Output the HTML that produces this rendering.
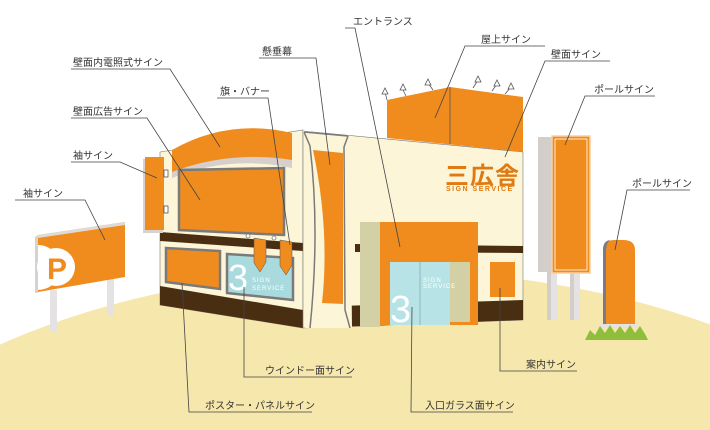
<!DOCTYPE html>
<html><head><meta charset="utf-8"><style>
html,body{margin:0;padding:0;background:#fff;width:710px;height:430px;overflow:hidden}
svg{display:block}
text{font-family:"Liberation Sans","Noto Sans CJK JP",sans-serif;font-size:10px;fill:#333}
</style></head><body>
<svg width="710" height="430" viewBox="0 0 710 430">
<!-- ground -->
<ellipse cx="380" cy="600" rx="600" ry="330" fill="#f6e7ac"/>
<rect x="0" y="420" width="710" height="10" fill="#f6e7ac"/>

<!-- P sign -->
<rect x="50" y="290" width="7" height="42" fill="#e4e2e2"/>
<rect x="107" y="276" width="7" height="40" fill="#e4e2e2"/>
<polygon points="35,237 38,235 38,293 35,293" fill="#d8d2ce"/>
<polygon points="38,235 125,222 125,277 38,292" fill="#f08c1e"/>
<polygon points="38,235 125,222 125,225 38,238" fill="#e0dad6"/>
<path d="M38,245 A20,20 0 0 1 38,290 Z" fill="#fff"/>
<circle cx="56" cy="267" r="19" fill="#fff"/>
<text x="47" y="279" style="font-size:30px;font-weight:bold;fill:#f08c1e">P</text>

<!-- left wing -->
<polygon points="160,152 303,130 303,328 160,305" fill="#fcf5d8" stroke="#777" stroke-width="0.6"/>
<polygon points="160,232 303,243 303,251 160,241" fill="#4a2e12"/>
<polygon points="160,286 303,310 303,328 160,305" fill="#4a2e12"/>
<!-- arch sign -->
<path d="M172,170 Q230,145 292,160 L292,168 Q230,155 172,178 Z" fill="#d6cfcb"/>
<path d="M172,150 Q228,118 292,133 L292,160 Q230,150 172,172 Z" fill="#f08c1e"/>
<!-- wall ad sign -->
<polygon points="179,170 284,168 284,235 179,230" fill="#f08c1e" stroke="#7a7a7a" stroke-width="2.5"/>
<!-- poster -->
<polygon points="166,248 220,251 220,289 166,282" fill="#f08c1e" stroke="#7a7a7a" stroke-width="2.5"/>
<!-- window -->
<polygon points="227,254 293,258 293,300 227,293" fill="#a9dbde" stroke="#7a7a7a" stroke-width="2.5"/>
<text x="228" y="290" style="font-size:36px;fill:#fff">3</text>
<text x="252" y="282" style="font-size:6px;fill:#fff;letter-spacing:1px">SIGN</text>
<text x="252" y="290" style="font-size:6px;fill:#fff;letter-spacing:1px">SERVICE</text>
<!-- flags -->
<circle cx="248" cy="236" r="2" fill="#fff" stroke="#555" stroke-width="0.6"/>
<circle cx="274" cy="238" r="2" fill="#fff" stroke="#555" stroke-width="0.6"/>
<polygon points="254,238 266,240 266,262 260,272 254,263" fill="#f08c1e" stroke="#555" stroke-width="0.5"/>
<polygon points="280,240 292,242 292,265 286,275 280,266" fill="#f08c1e" stroke="#555" stroke-width="0.5"/>
<!-- sode sign -->
<rect x="143" y="159" width="20" height="74" fill="#d8d2ce"/>
<rect x="145" y="157" width="19" height="73" fill="#f08c1e"/>
<rect x="164" y="170" width="4" height="7" fill="#fff" stroke="#222" stroke-width="0.6"/>
<rect x="164" y="206" width="4" height="7" fill="#fff" stroke="#222" stroke-width="0.6"/>

<!-- main right building -->
<polygon points="303,131 523,152 523,320 303,328" fill="#fcf5d8" stroke="#777" stroke-width="0.6"/>
<polygon points="355,244 523,246 523,253 355,252" fill="#4a2e12"/>
<polygon points="340,306 523,300 523,320 340,327" fill="#4a2e12"/>
<!-- roof sign -->
<polygon points="387,100 450,87 523,97 523,152 387,138" fill="#f08c1e"/>
<line x1="450" y1="87" x2="450" y2="144" stroke="#555" stroke-width="0.8"/>
<g stroke="#555" stroke-width="0.8" fill="#fff">
<line x1="387" y1="100" x2="385" y2="92"/><line x1="406" y1="96" x2="402" y2="88"/><line x1="433" y1="90" x2="428" y2="83"/>
<line x1="473" y1="88" x2="478" y2="80"/><line x1="492" y1="91" x2="497" y2="84"/><line x1="505" y1="94" x2="511" y2="87"/>
<polygon points="382,94 388,94 385,88"/><polygon points="400,90 406,90 403,84"/><polygon points="425,85 431,85 428,79"/>
<polygon points="475,82 481,82 478,76"/><polygon points="494,86 500,86 497,80"/><polygon points="508,89 514,89 511,83"/>
</g>
<!-- logo -->
<text x="445" y="184" style="font-size:24px;font-weight:bold;fill:#e07a10;letter-spacing:1px">三広舎</text>
<text x="446" y="191" style="font-size:7px;font-weight:bold;fill:#e07a10;letter-spacing:1.5px">SIGN SERVICE</text>
<!-- middle column -->
<path d="M303,131 L350,136 L352,328 L305,328 Q318,230 303,131 Z" fill="#fcf5d8"/>
<path d="M304,132 L310,146 Q320,230 310,328 M348,136 L344,147 L345,310 L350,328 M304,132 L348,136" fill="none" stroke="#7a7a7a" stroke-width="1.5"/>
<path d="M313,150 L343,153 L343,304 L322,303 Q330,230 313,150 Z" fill="#f08c1e"/>
<!-- entrance -->
<rect x="360" y="222" width="20" height="105" fill="#d4d0a6"/>
<rect x="380" y="222" width="98" height="103" fill="#f08c1e"/>
<rect x="390" y="262" width="60" height="63" fill="#b8e3e6"/>
<line x1="420" y1="262" x2="420" y2="325" stroke="#8aa" stroke-width="0.8"/>
<rect x="450" y="262" width="20" height="60" fill="#d4d0a6"/>
<text x="390" y="322" style="font-size:38px;fill:#fff">3</text>
<text x="423" y="282" style="font-size:6px;fill:#fff;letter-spacing:1px">SIGN</text>
<text x="423" y="288" style="font-size:6px;fill:#fff;letter-spacing:1px">SERVICE</text>
<!-- guide sign -->
<rect x="490" y="262" width="25" height="35" fill="#f08c1e"/>

<!-- tall pole sign -->
<rect x="547" y="270" width="10" height="50" fill="#e4e2e2"/>
<rect x="547" y="270" width="4" height="50" fill="#d4ceca"/>
<rect x="570" y="270" width="10" height="50" fill="#e4e2e2"/>
<rect x="570" y="270" width="4" height="50" fill="#d4ceca"/>
<rect x="538" y="137" width="16" height="135" fill="#d4ceca"/>
<rect x="552" y="136" width="38" height="137" fill="#f08c1e" stroke="#fcd0a0" stroke-width="1.5"/>
<rect x="555" y="139" width="32" height="131" fill="none" stroke="#fff" stroke-width="0.8"/>
<!-- small pole sign -->
<path d="M603,325 L603,250 Q603,240 615,240 L623,240 Q635,240 635,250 L635,325 Z" fill="#f08c1e"/>
<path d="M603,325 L603,250 Q603,241 610,240 Q606,243 606,252 L606,325 Z" fill="#7a7a88"/>
<rect x="600" y="324" width="38" height="4" fill="#e4e2e2"/>
<path d="M585,340 L590,330 L595,335 L600,326 L605,333 L610,325 L615,333 L620,326 L625,333 L630,325 L635,333 L640,326 L645,334 L648,340 Z" fill="#8fbe3c"/>

<!-- leader lines -->
<g stroke="#444" stroke-width="0.8" fill="none">
<polyline points="71,69 170,69 220,147"/>
<polyline points="71,118 147,118 200,200"/>
<polyline points="71,162 120,162 157,178"/>
<polyline points="15,200 85,200 105,240"/>
<polyline points="217,98 268,98 290,245"/>
<polyline points="259,58 316,58 330,165"/>
<polyline points="345,28 355,28 400,247"/>
<polyline points="545,46 465,46 435,118"/>
<polyline points="610,61 545,61 505,157"/>
<polyline points="655,96 585,96 565,145"/>
<polyline points="690,190 627,190 615,250"/>
<polyline points="244,287 244,377 352,377"/>
<polyline points="182,283 189,412 312,412"/>
<polyline points="412,307 411,412 513,412"/>
<polyline points="500,288 500,371 577,371"/>
</g>
<!-- labels -->
<text x="73" y="66">壁面内電照式サイン</text>
<text x="73" y="115">壁面広告サイン</text>
<text x="73" y="159">袖サイン</text>
<text x="23" y="197">袖サイン</text>
<text x="220" y="95">旗・バナー</text>
<text x="262" y="55">懸垂幕</text>
<text x="353" y="25">エントランス</text>
<text x="481" y="43">屋上サイン</text>
<text x="551" y="58">壁面サイン</text>
<text x="594" y="93">ポールサイン</text>
<text x="632" y="187">ポールサイン</text>
<text x="265" y="374">ウインドー面サイン</text>
<text x="205" y="409">ポスター・パネルサイン</text>
<text x="425" y="409">入口ガラス面サイン</text>
<text x="526" y="368">案内サイン</text>
</svg>
</body></html>
